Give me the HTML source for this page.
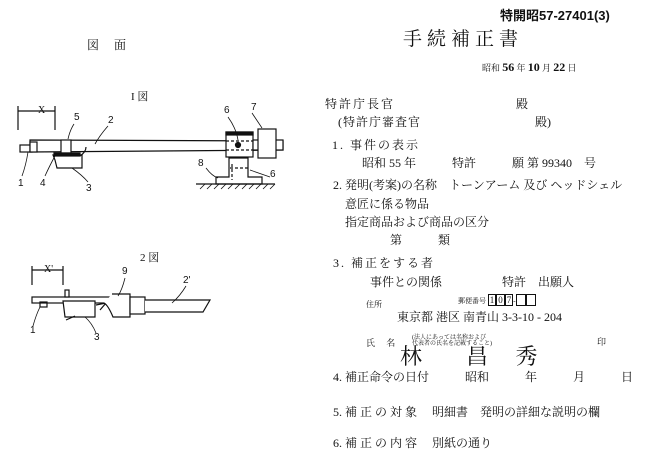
<!DOCTYPE html>
<html><head><meta charset="utf-8"><style>
html,body{margin:0;padding:0;background:#fff;}
body{width:655px;height:466px;position:relative;overflow:hidden;font-family:"Liberation Serif","Noto Serif CJK SC","Noto Sans CJK JP",serif;color:#111;}
.t{position:absolute;white-space:nowrap;font-size:12px;line-height:1;}
.h{font-family:"Liberation Sans","Noto Sans CJK JP",sans-serif;}
</style></head><body>
<svg width="655" height="466" style="position:absolute;left:0;top:0" stroke="#111" fill="none" stroke-width="1.2">
<line x1="18" y1="111" x2="55" y2="111"/><line x1="18" y1="106" x2="18" y2="130"/><line x1="55" y1="106" x2="55" y2="130"/>
<rect x="20" y="145" width="12" height="7"/>
<polygon points="30,140 283,141 283,150 30,152" fill="#fff"/>
<rect x="30" y="142" width="7" height="10" fill="#fff"/>
<rect x="61" y="140" width="10" height="13" fill="#fff"/>
<path d="M53,155 L82,155 L82,168 L57,168 L55,160 Z" fill="#fff"/>
<rect x="54" y="153" width="26" height="3" fill="#111"/>
<path d="M80,156 Q86,152 86,147"/>
<rect x="226" y="132" width="27" height="25" fill="#fff"/><rect x="226" y="132" width="27" height="3" fill="#111"/>
<line x1="226" y1="141" x2="253" y2="141" stroke-dasharray="3,2"/><line x1="226" y1="150" x2="253" y2="150" stroke-dasharray="3,2"/>
<circle cx="238" cy="145" r="2.5" fill="#111"/>
<rect x="253" y="140" width="30" height="10" fill="#fff"/>
<rect x="258" y="129" width="18" height="29" fill="#fff"/>
<path d="M229,158 H248 V177 H262 V184 H216 V177 H229 Z" fill="#fff"/>
<line x1="230" y1="168" x2="248" y2="168" stroke-dasharray="3,2"/><line x1="232" y1="164" x2="232" y2="180" stroke-dasharray="3,2"/>
<line x1="196" y1="184" x2="275" y2="184"/>
<path d="M200,189l5,-5M207,189l5,-5M214,189l5,-5M221,189l5,-5M228,189l5,-5M235,189l5,-5M242,189l5,-5M249,189l5,-5M256,189l5,-5M263,189l5,-5M270,189l5,-5" stroke-width="0.8"/>
<path d="M74,124 Q70,130 68,139 M108,126 Q100,135 95,144 M228,117 Q236,128 238,140 M252,113 L262,128 M206,168 Q212,176 218,178 M270,177 L250,170 M22,176 Q26,165 28,152 M45,176 Q50,165 55,156 M88,182 Q82,175 72,168" stroke-width="0.8"/>
<line x1="32" y1="270" x2="63" y2="270"/><line x1="32" y1="266" x2="32" y2="285"/><line x1="63" y1="266" x2="63" y2="285"/>
<rect x="32" y="297" width="84" height="6" fill="#fff"/>
<rect x="40" y="302" width="7" height="5"/>
<rect x="65" y="290" width="4" height="7" fill="#fff"/>
<path d="M63,301 H95 V317 H65 Z" fill="#fff"/>
<path d="M66,320 L75,316" />
<path d="M96,305 L106,303 L100,310"/>
<path d="M112,294 H130 V317 H113 Q108,305 104,303" fill="#fff"/>
<rect x="130" y="297" width="15" height="17" fill="#fff"/>
<path d="M145,300 H210 L203,312 H145" fill="#fff"/>
<path d="M125,278 Q122,290 118,296 M186,286 Q180,296 172,303 M33,326 Q36,315 40,307 M96,333 Q92,323 85,317" stroke-width="0.8"/>
</svg>
<div class="t" style="left:38px;top:106px;font-size:10px">X</div>
<div class="t" style="left:44px;top:265px;font-size:10px">X'</div>
<div class="t h" style="left:74px;top:113px;font-size:10px">5</div>
<div class="t h" style="left:108px;top:116px;font-size:10px">2</div>
<div class="t h" style="left:224px;top:106px;font-size:10px">6</div>
<div class="t h" style="left:251px;top:103px;font-size:10px">7</div>
<div class="t h" style="left:198px;top:159px;font-size:10px">8</div>
<div class="t h" style="left:270px;top:170px;font-size:10px">6</div>
<div class="t h" style="left:18px;top:179px;font-size:10px">1</div>
<div class="t h" style="left:40px;top:179px;font-size:10px">4</div>
<div class="t h" style="left:86px;top:184px;font-size:10px">3</div>
<div class="t h" style="left:122px;top:267px;font-size:10px">9</div>
<div class="t h" style="left:183px;top:276px;font-size:10px">2'</div>
<div class="t h" style="left:30px;top:326px;font-size:10px">1</div>
<div class="t h" style="left:94px;top:333px;font-size:10px">3</div>
<div class="t" style="left:131px;top:92px;font-size:11px">I 図</div>
<div class="t" style="left:140px;top:253px;font-size:11px">2 図</div>
<div class="t" style="left:87px;top:39px;font-size:12px">図　 面</div>
<div class="t h" style="left:500px;top:9px;font-size:13px;font-weight:bold">特開昭57-27401(3)</div>
<div class="t" style="left:403px;top:30px;font-size:19px;letter-spacing:5px">手続補正書</div>
<div class="t" style="left:482px;top:61px;font-size:9px">昭和 <b style="font-size:12px">56</b> 年 <b style="font-size:12px">10</b> 月 <b style="font-size:12px">22</b> 日</div>
<div class="t" style="left:325px;top:98px;letter-spacing:2px">特許庁長官</div>
<div class="t" style="left:516px;top:98px">殿</div>
<div class="t" style="left:338px;top:116px;letter-spacing:1px">(特許庁審査官</div>
<div class="t" style="left:535px;top:116px">殿)</div>
<div class="t" style="left:332px;top:139px;letter-spacing:2px">1. 事件の表示</div>
<div class="t" style="left:362px;top:157px">昭和 55 年　　　特許　　　願 第 99340　号</div>
<div class="t" style="left:333px;top:179px">2. 発明(考案)の名称　トーンアーム 及び ヘッドシェル</div>
<div class="t" style="left:345px;top:198px">意匠に係る物品</div>
<div class="t" style="left:345px;top:216px">指定商品および商品の区分</div>
<div class="t" style="left:390px;top:234px">第　　　類</div>
<div class="t" style="left:333px;top:257px;letter-spacing:2px">3. 補正をする者</div>
<div class="t" style="left:370px;top:276px">事件との関係　　　　　特許　出願人</div>
<div class="t" style="left:366px;top:301px;font-size:8px">住所</div>
<div class="t" style="left:458px;top:296px;font-size:7px">郵便番号 <span style="border:1px solid #111;padding:0 1px;font-size:9px">1</span><span style="border:1px solid #111;padding:0 1px;font-size:9px">0</span><span style="border:1px solid #111;padding:0 1px;font-size:9px">7</span>-<span style="border:1px solid #111;padding:0 3px;font-size:9px">&nbsp;</span><span style="border:1px solid #111;padding:0 3px;font-size:9px">&nbsp;</span></div>
<div class="t" style="left:397px;top:311px">東京都 港区 南青山 3-3-10 - 204</div>
<div class="t" style="left:366px;top:339px;font-size:9px">氏　 名</div>
<div class="t" style="left:412px;top:335px;font-size:6px">(法人にあっては名称および<br>代表者の氏名を記載すること)</div>
<div class="t" style="left:400px;top:346px;font-size:22px">林　　昌　 秀</div>
<div class="t" style="left:597px;top:338px;font-size:9px">印</div>
<div class="t" style="left:333px;top:371px">4. 補正命令の日付　　　昭和　　　年　　　月　　　日</div>
<div class="t" style="left:333px;top:406px">5. 補 正 の 対 象　 明細書　発明の詳細な説明の欄</div>
<div class="t" style="left:333px;top:437px">6. 補 正 の 内 容　 別紙の通り</div>
</body></html>
